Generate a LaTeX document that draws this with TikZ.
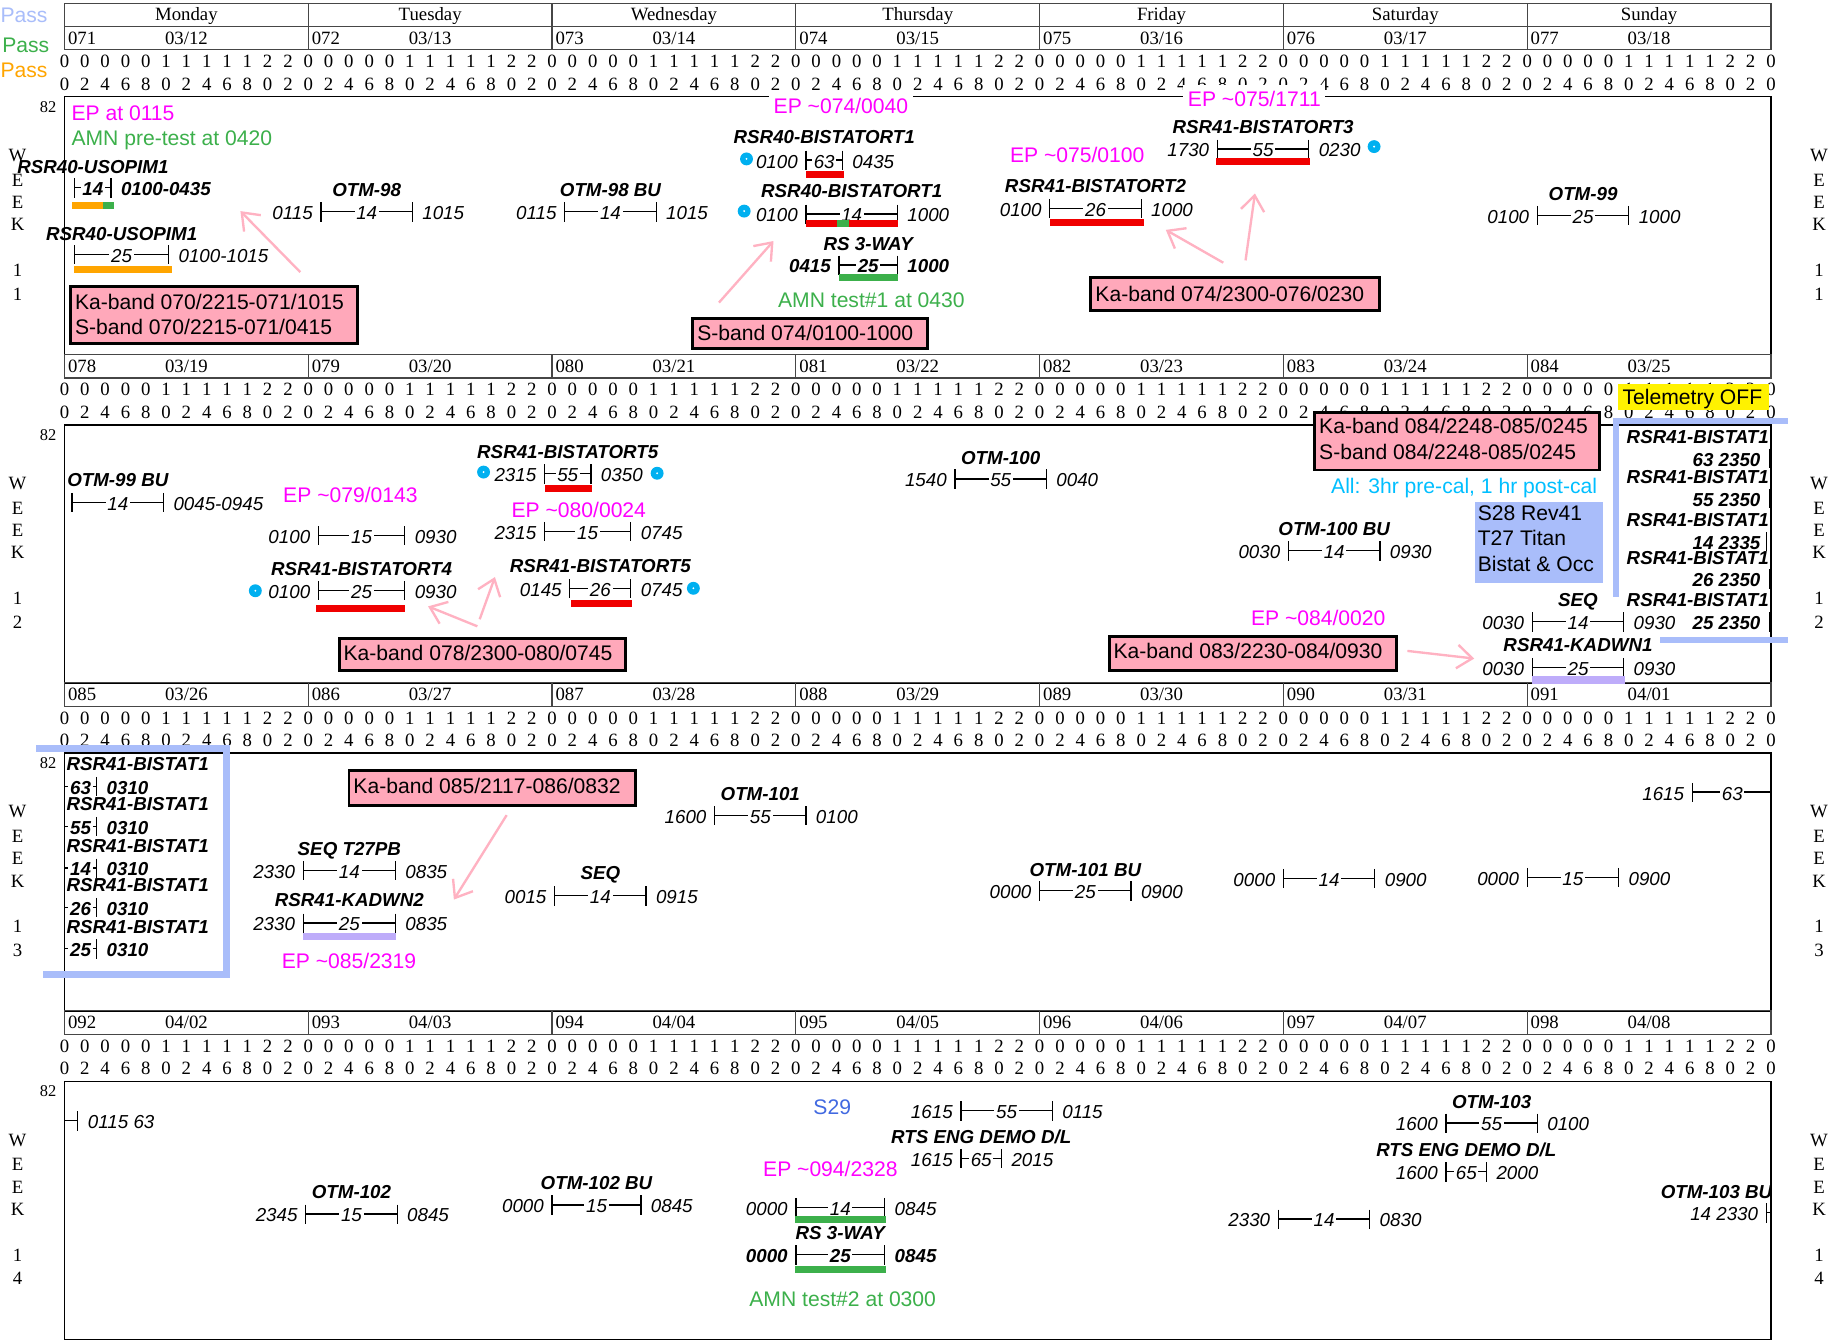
\documentclass[tikz,border=0pt]{standalone}
\usepackage{fontspec}
\setmainfont{Liberation Serif}
\newfontfamily\fsans{Liberation Sans}
\newfontfamily\fserif{Liberation Serif}
\usetikzlibrary{arrows.meta}
\definecolor{passblue}{RGB}{169,189,250}
\definecolor{passgreen}{RGB}{60,176,75}
\definecolor{passorange}{RGB}{255,165,0}
\definecolor{epmag}{RGB}{255,0,255}
\definecolor{skyb}{RGB}{0,176,240}
\definecolor{calblue}{RGB}{0,191,255}
\definecolor{kapink}{RGB}{255,168,186}
\definecolor{arrpink}{RGB}{255,178,194}
\definecolor{barred}{RGB}{240,0,0}
\definecolor{lav}{RGB}{190,172,250}
\definecolor{sblue}{RGB}{65,105,225}
\definecolor{gridc}{RGB}{70,70,70}
\tikzset{
  every node/.style={inner sep=0pt, outer sep=0pt},
  ser/.style={font=\fserif\fontsize{16}{16}\selectfont, text height=10.6pt, text depth=0pt},
  note/.style={font=\fsans\fontsize{18}{18}\selectfont, text height=12.9pt, text depth=0pt},
  notew/.style={note, fill=white, inner xsep=4pt, inner ysep=5pt},
  it/.style={font=\fsans\itshape\fontsize{16}{16}\selectfont, text height=11.5pt, text depth=0pt},
  bi/.style={font=\fsans\bfseries\itshape\fontsize{16}{16}\selectfont, text height=11.5pt, text depth=0pt},
  grid/.style={draw=gridc, line width=1pt},
  boxl/.style={draw=black, line width=1pt},
  barline/.style={line width=1.1pt, black},
  kabox/.style={draw=black, line width=2.5pt, fill=kapink},
  brk/.style={draw=passblue, line width=5.5pt},
  parrow/.style={draw=arrpink, line width=2pt, -{Straight Barb[length=13pt,width=20pt,line width=2pt]}},
}
% pass bar: [style]{id}{start h}{end h}{y}{number}{start text}{end text}
\newcommand\pass[8][it]{%
  \pgfmathsetmacro\pxa{55+8.6607*(#3)}%
  \pgfmathsetmacro\pxb{55+8.6607*(#4)}%
  \pgfmathsetmacro\pxm{(\pxa+\pxb)/2}%
  \draw[barline] (\pxa,#5-1) -- (\pxb,#5-1);%
  \draw[barline] (\pxa,#5-9) -- (\pxa,#5+7.5);%
  \draw[barline] (\pxb,#5-9) -- (\pxb,#5+7.5);%
  \node[#1,fill=white,inner xsep=1.5pt] (#2-n) at (\pxm,#5) {#6};%
  \if\relax\detokenize{#7}\relax\else\node[#1,anchor=east] (#2-s) at (\pxa-7,#5) {#7};\fi
  \if\relax\detokenize{#8}\relax\else\node[#1,anchor=west] (#2-e) at (\pxb+8.5,#5) {#8};\fi
}
% label centred over a bar: [style]{id}{start h}{end h}{y}{text}
\newcommand\plabel[6][bi]{%
  \pgfmathsetmacro\pxm{55+8.6607*((#3)+(#4))/2}%
  \node[#1] (#2) at (\pxm,#5) {#6};%
}
\newcommand\ubar[4]{\fill[#1] (#2,#4-3) rectangle (#3,#4+3);}
\newcommand\sdot[2]{\fill[skyb] (#1,#2) circle (5.5); \fill[white] (#1,#2) circle (0.9);}
\begin{document}
\begin{tikzpicture}[x=1pt,y=-1pt]
\useasboundingbox (0,0) rectangle (1568,1143);
\fill[white] (0,0) rectangle (1568,1143);
% legend
\node[note, text=passblue, anchor=west] (lg1) at (0.5,13) {Pass};
\node[note, text=passgreen, anchor=east] (lg2) at (42,38) {Pass};
\node[note, text=passorange, anchor=west] (lg3) at (0.5,60) {Pass};
% day names
\draw[grid] (55,3) rectangle (1510,22.5);
\foreach \dd/\nm in {0/Monday,1/Tuesday,2/Wednesday,3/Thursday,4/Friday,5/Saturday,6/Sunday}{
  \draw[grid] ({55+207.857*\dd},3) -- ({55+207.857*\dd},22.5);
  \node[ser] (day\dd) at ({55+207.857*(\dd+0.5)},12.5) {\nm};
}
% week frames
\foreach \w/\TT in {0/22.5,1/302.3,2/582.1,3/861.9}{
  \draw[grid] (55,\TT) rectangle (1510,\TT+20);
  \draw[boxl] (55,\TT+60) rectangle (1510,\TT+280);
  \foreach \dd in {0,...,6}{
    \pgfmathtruncatemacro\mydn{71+7*\w+\dd}
    \pgfmathtruncatemacro\mydm{12+7*\w+\dd}
    \pgfmathtruncatemacro\myda{\mydm-31}
    \draw[grid] ({55+207.857*\dd},\TT) -- ({55+207.857*\dd},\TT+20);
    \node[ser,anchor=west] (dn\w-\dd) at ({58+207.857*\dd},\TT+10) {0\mydn};
    \node[ser] (dt\w-\dd) at ({55+207.857*(\dd+0.5)},\TT+10) {\ifnum\mydm>31 04/0\myda\else 03/\mydm\fi};
  }
  \foreach \kk in {0,...,84}{
    \pgfmathtruncatemacro\myhh{2*mod(\kk,12)}
    \pgfmathtruncatemacro\myta{int(\myhh/10)}
    \pgfmathtruncatemacro\myub{mod(\myhh,10)}
    \node[ser] (dg\w-\kk-a) at ({55+17.3214*\kk},\TT+30) {\myta};
    \node[ser] (dg\w-\kk-b) at ({55+17.3214*\kk},\TT+49) {\myub};
  }
  \node[ser,font=\fserif\fontsize{14}{14}\selectfont,anchor=east] (n82-\w) at (48,\TT+68) {82};
  \foreach \ch/\off [count=\ii] in {W/110,E/131,E/150,K/169,1/208}{
    \node[ser] (wl\w-\ii) at (15,\TT+\off) {\ch};
    \node[ser] (wr\w-\ii) at (1551,\TT+\off) {\ch};
  }
  \pgfmathtruncatemacro\mywkd{\w+1}
  \node[ser] (wl\w-6) at (15,\TT+228) {\mywkd};
  \node[ser] (wr\w-6) at (1551,\TT+228) {\mywkd};
}

% ================= WEEK 11 =================
\node[note, text=epmag, anchor=west] (ep1) at (61,96.5) {EP at 0115};
\node[note, text=passgreen, anchor=west] (amn0) at (61,118) {AMN pre-test at 0420};
\plabel{u1l}{1}{4.5833}{142}{RSR40-USOPIM1}
\pass[bi]{u1}{1}{4.5833}{161}{14}{}{0100-0435}
\ubar{passorange}{61}{87.5}{175.5}\ubar{passgreen}{87.5}{97.5}{175.5}
\plabel{u2l}{1}{10.25}{199}{RSR40-USOPIM1}
\pass{u2}{1}{10.25}{218}{25}{}{0100-1015}
\ubar{passorange}{63.5}{146.5}{229.5}
\node[kabox, minimum width=244, minimum height=48] (ka1) at (182.5,268.5) {};
\node[note, anchor=west] (ka1a) at (64,257.5) {Ka-band 070/2215-071/1015};
\node[note, anchor=west] (ka1b) at (64,279) {S-band 070/2215-071/0415};
\coordinate (a1t) at (256,232); \coordinate (a1h) at (205,180);
\draw[parrow] (a1t) -- (a1h);

\plabel{o98l}{25.25}{34.25}{161.5}{OTM-98}
\pass{o98}{25.25}{34.25}{181.5}{14}{0115}{1015}
\plabel{o98bl}{49.25}{58.25}{161.5}{OTM-98 BU}
\pass{o98b}{49.25}{58.25}{181.5}{14}{0115}{1015}

\node[notew, text=epmag] (ep2) at (717,90.5) {EP \textasciitilde074/0040};
\plabel{b1al}{73}{76.5833}{117}{RSR40-BISTATORT1}
\pass{b1a}{73}{76.5833}{137.5}{63}{0100}{0435}
\sdot{636.5}{135.5}
\ubar{barred}{687}{719.5}{149}
\plabel{b1bl}{73}{82}{163}{RSR40-BISTATORT1}
\pass{b1b}{73}{82}{183.5}{14}{0100}{1000}
\sdot{634.5}{180}
\ubar{barred}{687.5}{714}{190.5}\ubar{passgreen}{714}{723.5}{190.5}\ubar{barred}{723.5}{765.5}{190.5}
\plabel{rs1l}{76.25}{82}{207.5}{RS 3-WAY}
\pass[bi]{rs1}{76.25}{82}{227}{25}{0415}{1000}
\ubar{passgreen}{715}{765.5}{236.5}
\node[notew, text=passgreen] (amn1) at (743,256) {AMN test\#1 at 0430};
\node[kabox, minimum width=200, minimum height=25.5] (sb1) at (690.5,284.2) {};
\node[note, anchor=west] (sb1a) at (594.5,284.2) {S-band 074/0100-1000};
\coordinate (a2t) at (613,258); \coordinate (a2h) at (659.5,205.5);
\draw[parrow] (a2t) -- (a2h);

\node[notew, text=epmag] (ep3) at (918.5,132.2) {EP \textasciitilde075/0100};
\plabel{b2l}{97}{106}{158.6}{RSR41-BISTATORT2}
\pass{b2}{97}{106}{178.5}{26}{0100}{1000}
\ubar{barred}{895.5}{975.5}{189.6}
\node[kabox, minimum width=246, minimum height=28] (ka2) at (1053,251) {};
\node[note, anchor=west] (ka2a) at (934,250.5) {Ka-band 074/2300-076/0230};
\coordinate (a3t) at (1043,224); \coordinate (a3h) at (994,196);
\draw[parrow] (a3t) -- (a3h);
\coordinate (a4t) at (1062,222); \coordinate (a4h) at (1070,165);
\draw[parrow] (a4t) -- (a4h);

\node[notew, text=epmag] (ep4) at (1069.5,84) {EP \textasciitilde075/1711};
\plabel{b3l}{113.5}{122.5}{108}{RSR41-BISTATORT3}
\pass{b3}{113.5}{122.5}{128}{55}{1730}{0230}
\sdot{1171.6}{125}
\ubar{barred}{1037}{1117}{138}

\plabel{o99l}{145}{154}{165}{OTM-99}
\pass{o99}{145}{154}{184.5}{25}{0100}{1000}

% ================= WEEK 12 =================
\plabel{o99bl}{0.75}{9.75}{409.3}{OTM-99 BU}
\pass{o99b}{0.75}{9.75}{429.2}{14}{}{0045-0945}
\node[notew, text=epmag] (ep5) at (298.8,422) {EP \textasciitilde079/0143};
\pass{p15a}{25}{33.5}{457.6}{15}{0100}{0930}
\plabel{b4l}{25}{33.5}{484.6}{RSR41-BISTATORT4}
\pass{b4}{25}{33.5}{504.5}{25}{0100}{0930}
\sdot{217.7}{503.7}
\ubar{barred}{269.5}{345}{518.7}
\plabel{b5al}{47.25}{51.8333}{385}{RSR41-BISTATORT5}
\pass{b5a}{47.25}{51.8333}{405}{55}{2315}{0350}
\sdot{412.3}{402.5}\sdot{560.3}{403.5}
\ubar{barred}{464.4}{505.1}{416.4}
\node[notew, text=epmag] (ep6) at (493.5,434.9) {EP \textasciitilde080/0024};
\pass{p15b}{47.25}{55.75}{454}{15}{2315}{0745}
\plabel{b5bl}{49.75}{55.75}{482.6}{RSR41-BISTATORT5}
\pass{b5b}{49.75}{55.75}{502.5}{26}{0145}{0745}
\sdot{591.2}{501.6}
\ubar{barred}{486.5}{538.6}{514.4}
\node[kabox, minimum width=243.7, minimum height=27] (ka3) at (411.2,557.8) {};
\node[note, anchor=west] (ka3a) at (293,556.5) {Ka-band 078/2300-080/0745};
\coordinate (a5t) at (407,534); \coordinate (a5h) at (365,517);
\draw[parrow] (a5t) -- (a5h);
\coordinate (a6t) at (409,528); \coordinate (a6h) at (422,492);
\draw[parrow] (a6t) -- (a6h);

\plabel{o100l}{87.6667}{96.6667}{390}{OTM-100}
\pass{o100}{87.6667}{96.6667}{409.3}{55}{1540}{0040}

\plabel{o100bl}{120.5}{129.5}{450.8}{OTM-100 BU}
\pass{o100b}{120.5}{129.5}{470.4}{14}{0030}{0930}
\node[note, text=calblue] (cal) at (1248.4,414.4) {All: 3hr pre-cal, 1 hr post-cal};
\node[fill=passblue, minimum width=108.6, minimum height=69.6] (s28) at (1312.1,462.6) {};
\node[note, anchor=west] (s28a) at (1260,437.1) {S28 Rev41};
\node[note, anchor=west] (s28b) at (1260,458.6) {T27 Titan};
\node[note, anchor=west] (s28c) at (1260,481) {Bistat \& Occ};
\node[notew, text=epmag] (ep7) at (1124,527.2) {EP \textasciitilde084/0020};
\node[kabox, minimum width=245, minimum height=29] (ka4) at (1068.5,556.8) {};
\node[note, anchor=west] (ka4a) at (949.5,555) {Ka-band 083/2230-084/0930};
\coordinate (a7t) at (1200,555); \coordinate (a7h) at (1257,561.5);
\draw[parrow] (a7t) -- (a7h);
\plabel{seq1l}{144.5}{153.5}{511}{SEQ}
\pass{seq1}{144.5}{153.5}{531}{14}{0030}{0930}
\plabel{kd1l}{144.5}{153.5}{550}{RSR41-KADWN1}
\pass{kd1}{144.5}{153.5}{570}{25}{0030}{0930}
\ubar{lav}{1306.3}{1385.6}{579.8}

\node[kabox, minimum width=242.4, minimum height=48.9] (ka5) at (1242.2,376.3) {};
\node[note, anchor=west] (ka5a) at (1124.8,363.5) {Ka-band 084/2248-085/0245};
\node[note, anchor=west] (ka5b) at (1124.8,385.3) {S-band 084/2248-085/0245};
\node[fill=yellow, minimum width=128.7, minimum height=22] (tel) at (1444.3,338.7) {};
\node[note] (tela) at (1443,338.5) {Telemetry OFF};

\begin{scope}
\clip (1300,360) rectangle (1510,545);
\foreach \ly/\by/\txt/\tk [count=\ii] in {372.3/391.6/63 2350/1508.6, 406.4/425.8/55 2350/1508.6, 443.4/462.4/14 2335/1506.4, 475.2/494.5/26 2350/1508.6, 511/531/25 2350/1508.6}{
  \node[bi, anchor=west] (rcl\ii) at (1387,\ly) {RSR41-BISTAT1};
  \node[bi, anchor=east] (rcn\ii) at (1501,\by) {\txt};
  \draw[barline] (\tk,\by-9) -- (\tk,\by+7.5);
}
\end{scope}
\draw[brk] (1375.6,359) -- (1524.8,359);
\draw[brk] (1378,359) -- (1378,509);
\draw[brk] (1415.4,545.7) -- (1524.8,545.7);

% ================= WEEK 13 =================
\foreach \ly/\by/\nn [count=\ii] in {651.4/671.3/63, 685.5/705.4/55, 721.1/741/14, 754/774.5/26, 790.4/810/25}{
  \node[bi, anchor=west] (lcl\ii) at (56.8,\ly) {RSR41-BISTAT1};
  \pass[bi]{lc\ii}{0}{3.1667}{\by}{\nn}{}{0310}
}
\draw[brk] (31,638) -- (196,638);
\draw[brk] (193,638) -- (193,832);
\draw[brk] (37,831) -- (196,831);

\node[kabox, minimum width=244.5, minimum height=29.8] (ka6) at (419.8,671.5) {};
\node[note, anchor=west] (ka6a) at (301.4,670) {Ka-band 085/2117-086/0832};
\coordinate (a8t) at (432,695); \coordinate (a8h) at (387,767);
\draw[parrow] (a8t) -- (a8h);
\plabel{sq2l}{23.5}{32.5833}{723.3}{SEQ T27PB}
\pass{sq2}{23.5}{32.5833}{743.2}{14}{2330}{0835}
\plabel{kd2l}{23.5}{32.5833}{767.4}{RSR41-KADWN2}
\pass{kd2}{23.5}{32.5833}{787.9}{25}{2330}{0835}
\ubar{lav}{258.4}{337.5}{798.1}
\node[notew, text=epmag] (ep8) at (297.6,819.1) {EP \textasciitilde085/2319};
\plabel{sq3l}{48.25}{57.25}{744.1}{SEQ}
\pass{sq3}{48.25}{57.25}{764.6}{14}{0015}{0915}
\plabel{o101l}{64}{73}{676.4}{OTM-101}
\pass{o101}{64}{73}{696.3}{55}{1600}{0100}
\plabel{o101bl}{96}{105}{741.8}{OTM-101 BU}
\pass{o101b}{96}{105}{760.3}{25}{0000}{0900}
\pass{s13}{120}{129}{749.8}{14}{0000}{0900}
\pass{u13}{144}{153}{749}{15}{0000}{0900}
% 1615 -63- running off the edge
\coordinate (e13a) at (1442.9,675.4); \coordinate (e13b) at (1510,675.4);
\draw[barline] (e13a) -- (e13b);
\draw[barline] (1442.9,667.4) -- (1442.9,683.9);
\node[it,fill=white,inner xsep=1.5pt] (e13n) at (1477,676.4) {63};
\node[it,anchor=east] (e13s) at (1435.9,676.4) {1615};

% ================= WEEK 14 =================
\coordinate (w14a) at (55,955.4); \coordinate (w14b) at (65.8,955.4);
\draw[barline] (w14a) -- (w14b);
\draw[barline] (65.8,947.4) -- (65.8,963.9);
\node[it, anchor=west] (w14t) at (75,956.4) {0115 63};
\node[notew, text=sblue] (s29) at (709.6,944.2) {S29};
\plabel{o102l}{23.75}{32.75}{1016.1}{OTM-102}
\pass{o102}{23.75}{32.75}{1036}{15}{2345}{0845}
\plabel{o102bl}{48}{56.75}{1008.4}{OTM-102 BU}
\pass{o102b}{48}{56.75}{1028.3}{15}{0000}{0845}
\node[notew, text=epmag] (ep9) at (708,997) {EP \textasciitilde094/2328};
\pass{t14}{72}{80.75}{1030.3}{14}{0000}{0845}
\ubar{passgreen}{677.5}{755.5}{1039.5}
\plabel{rs2l}{72}{80.75}{1050.8}{RS 3-WAY}
\pass[bi]{rs2}{72}{80.75}{1070.7}{25}{0000}{0845}
\ubar{passgreen}{677.5}{755.5}{1082.5}
\node[note, text=passgreen] (amn2) at (718.5,1107.5) {AMN test\#2 at 0300};
\pass{t55}{88.25}{97.25}{947.9}{55}{1615}{0115}
\plabel{rts1l}{88.25}{92.25}{969.2}{RTS ENG DEMO D/L}
\pass{rts1}{88.25}{92.25}{988.5}{65}{1615}{2015}
\plabel{o103l}{136}{145}{939.3}{OTM-103}
\pass{o103}{136}{145}{958.4}{55}{1600}{0100}
\plabel{rts2l}{136}{140}{980}{RTS ENG DEMO D/L}
\pass{rts2}{136}{140}{999.9}{65}{1600}{2000}
\pass{f14}{119.5}{128.5}{1040.3}{14}{2330}{0830}
\begin{scope}
\clip (1380,990) rectangle (1510,1060);
\node[bi, anchor=west] (o103bl) at (1416,1016.1) {OTM-103 BU};
\end{scope}
\node[it, anchor=east] (o103bs) at (1499,1035) {14 2330};
\coordinate (w14c) at (1506,1034); \coordinate (w14d) at (1510,1034);
\draw[barline] (w14c) -- (w14d);
\draw[barline] (1506,1026) -- (1506,1042.5);
\end{tikzpicture}
\end{document}
